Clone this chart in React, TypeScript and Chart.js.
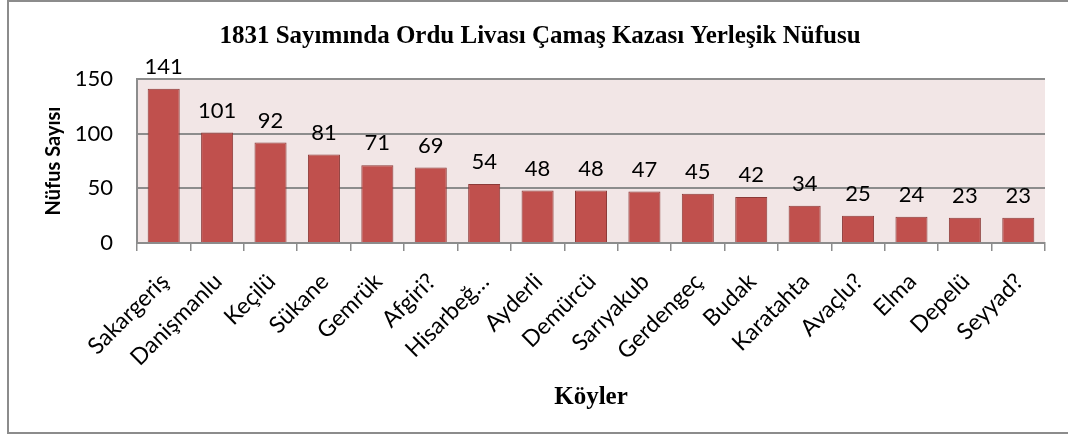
import React, { useEffect, useRef } from 'react';
import { Chart, registerables } from 'chart.js';

Chart.register(...registerables);

const chartTitle = '1831 Sayımında Ordu Livası Çamaş Kazası Yerleşik Nüfusu';
const xAxisTitle = 'Köyler';
const yAxisTitle = 'Nüfus Sayısı';
const categories = [
  'Sakargeriş', 'Danişmanlu', 'Keçilü', 'Sükane', 'Gemrük', 'Afgiri?', 'Hisarbeğ…',
  'Ayderli', 'Demürcü', 'Sarıyakub', 'Gerdengeç', 'Budak', 'Karatahta', 'Avaçlu?',
  'Elma', 'Depelü', 'Seyyad?',
];
const populationValues = [141, 101, 92, 81, 71, 69, 54, 48, 48, 47, 45, 42, 34, 25, 24, 23, 23];
const yTickMin = 0;
const yTickMax = 150;
const yTickStep = 50;

const SANS = 'Lato, "Noto Sans", sans-serif';
const SERIF = '"Liberation Serif", "DejaVu Serif", serif';

const frameAndBackground = {
  id: 'frameAndBackground',
  beforeDraw(chart: any) {
    const { ctx, chartArea, width, height } = chart;
    ctx.save();
    ctx.fillStyle = '#ffffff';
    ctx.fillRect(0, 0, width, height);
    ctx.strokeStyle = '#8c8c8c';
    ctx.lineWidth = 2;
    ctx.strokeRect(8, 1, width + 40, 432);
    ctx.fillStyle = '#f2e6e6';
    ctx.fillRect(chartArea.left, chartArea.top, chartArea.right - chartArea.left, chartArea.bottom - chartArea.top);
    ctx.restore();
  },
};

const valueLabels = {
  id: 'valueLabels',
  afterDatasetsDraw(chart: any) {
    const { ctx } = chart;
    const meta = chart.getDatasetMeta(0);
    const data = chart.data.datasets[0].data;
    ctx.save();
    ctx.font = `22px ${SANS}`;
    ctx.fillStyle = '#000000';
    ctx.textAlign = 'center';
    ctx.textBaseline = 'middle';
    meta.data.forEach((bar: any, i: number) => {
      ctx.fillText(String(data[i]), bar.x, bar.y - 22);
    });
    ctx.restore();
  },
};

export default function App() {
  const canvasRef = useRef<HTMLCanvasElement | null>(null);

  useEffect(() => {
    document.body.style.margin = '0';
    const canvas = canvasRef.current;
    if (!canvas) return;
    const chart = new Chart(canvas, {
      type: 'bar',
      data: {
        labels: categories,
        datasets: [
          {
            data: populationValues,
            backgroundColor: '#c0504d',
            borderColor: '#8c3a38',
            borderWidth: 1,
            barPercentage: 0.6,
            categoryPercentage: 1,
          },
        ],
      },
      options: {
        animation: false,
        responsive: false,
        devicePixelRatio: 1,
        layout: { padding: { left: 35, right: 23, top: 0, bottom: 0 } },
        plugins: {
          legend: { display: false },
          tooltip: { enabled: false },
          title: {
            display: true,
            text: chartTitle,
            color: '#000000',
            font: { family: SERIF, size: 25, weight: 'bold', lineHeight: 1.2 },
            padding: { top: 22, bottom: 27 },
          },
        },
        scales: {
          x: {
            offset: true,
            grid: {
              offset: true,
              drawOnChartArea: false,
              drawTicks: true,
              tickLength: 8,
              color: '#8c8c8c',
              lineWidth: 1.5,
            },
            border: { display: true, color: '#8c8c8c', width: 2 },
            ticks: {
              autoSkip: false,
              minRotation: 45,
              maxRotation: 45,
              color: '#000000',
              font: { family: SANS, size: 23 },
              padding: 17,
              labelOffset: 1,
            },
            title: {
              display: true,
              text: xAxisTitle,
              color: '#000000',
              font: { family: SERIF, size: 25, weight: 'bold', lineHeight: 1.2 },
              padding: { top: 0, bottom: 23 },
            },
            afterFit(scale: any) {
              scale.height = 193;
            },
          },
          y: {
            min: yTickMin,
            max: yTickMax,
            ticks: {
              stepSize: yTickStep,
              color: '#000000',
              font: { family: SANS, size: 22 },
              padding: 24,
            },
            grid: {
              drawTicks: false,
              color: '#8c8c8c',
              lineWidth: 2,
            },
            border: { display: true, color: '#8c8c8c', width: 2 },
            title: {
              display: true,
              text: yAxisTitle,
              color: '#000000',
              font: { family: SANS, size: 20, weight: 'bold', lineHeight: 1.2 },
              padding: { top: 7, bottom: 0 },
            },
            afterFit(scale: any) {
              scale.width = 102;
            },
          },
        },
      },
      plugins: [frameAndBackground, valueLabels],
    });
    return () => chart.destroy();
  }, []);

  return (
    <div style={{ width: 1068, height: 436 }}>
      <canvas ref={canvasRef} width={1068} height={436} style={{ display: 'block' }} />
    </div>
  );
}
